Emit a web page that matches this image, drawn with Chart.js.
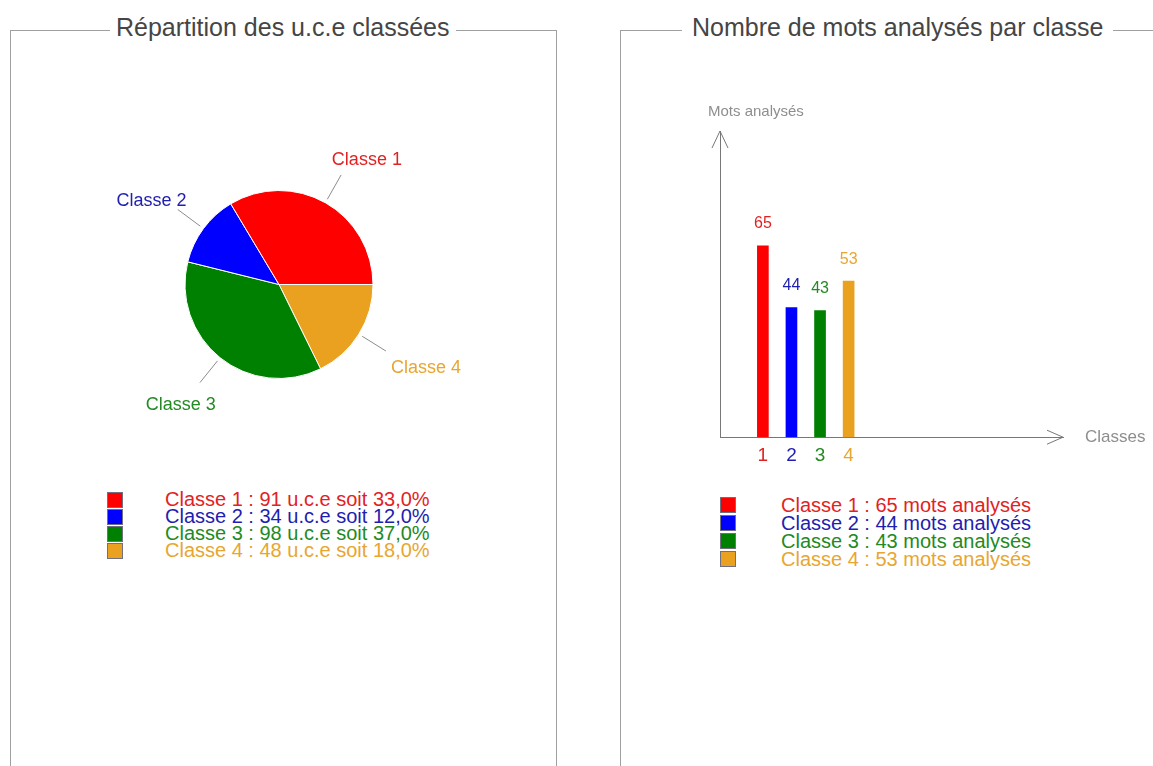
<!DOCTYPE html>
<html>
<head>
<meta charset="utf-8">
<script src="https://cdn.jsdelivr.net/npm/chart.js@4.4.0/dist/chart.umd.min.js"></script>
<style>
  body { margin:0; background:#fff; font-family:"Liberation Sans", Arial, sans-serif; overflow:hidden; }
  .box { position:absolute; top:30px; height:800px; border:1px solid #a0a0a0; }
  .box .title { position:absolute; top:-16px; background:#fff; font-size:25px; line-height:25px; color:#454545; white-space:nowrap; }
  canvas { position:absolute; }
  .legend { position:absolute; font-size:20px; white-space:nowrap; }
  .legend .row { position:relative; height:17px; line-height:17px; }
  .legend .sq { position:absolute; top:1px; width:14px; height:14px; border:1px solid #707080; }
  .legend .txt { position:absolute; }
</style>
</head>
<body>
<div class="box" style="left:10px; width:545px;"><span class="title" style="left:99px; padding:0 6px;">Répartition des u.c.e classées</span></div>
<div class="box" style="left:620px; width:600px;"><span class="title" style="left:61px; padding:0 10px;">Nombre de mots analysés par classe</span></div>

<canvas id="pieCanvas" width="546" height="440" style="left:10px; top:30px;"></canvas>
<canvas id="barCanvas" width="528" height="454" style="left:625px; top:30px;"></canvas>

<div id="pieLegend" class="legend" style="left:107px; top:491px;"></div>
<div id="barLegend" class="legend" style="left:720px; top:496px;"></div>

<script>
// data
var classes = ['Classe 1', 'Classe 2', 'Classe 3', 'Classe 4'];
var classNums = [1, 2, 3, 4];
var uceCounts = [91, 34, 98, 48];
var uceShares = ['33,0', '12,0', '37,0', '18,0'];
var motsCounts = [65, 44, 43, 53];

var markColors = ['#ff0000', '#0000ff', '#008000', '#e9a11f'];
var textColors = ['#e22222', '#1e1eb0', '#238a23', '#e8a630'];

Chart.defaults.font.family = '"Liberation Sans", Arial, sans-serif';

// pie is drawn counter clockwise from 3 o'clock, so feed it reversed
var order = [3, 2, 1, 0];

var pieLabels = {
  id: 'pieLabels',
  afterDatasetsDraw: function(chart) {
    var ctx = chart.ctx;
    var arcs = chart.getDatasetMeta(0).data;
    ctx.save();
    ctx.font = '18px "Liberation Sans", Arial, sans-serif';
    ctx.textAlign = 'center';
    ctx.textBaseline = 'middle';
    arcs.forEach(function(arc, j) {
      var i = order[j];
      var mid = (arc.startAngle + arc.endAngle) / 2;
      var c = Math.cos(mid), s = Math.sin(mid);
      var r = arc.outerRadius;
      ctx.strokeStyle = '#8c8c8c';
      ctx.lineWidth = 1;
      ctx.beginPath();
      ctx.moveTo(arc.x + (r + 4) * c, arc.y + (r + 4) * s);
      ctx.lineTo(arc.x + (r + 32) * c, arc.y + (r + 32) * s);
      ctx.stroke();
      ctx.fillStyle = textColors[i];
      ctx.fillText(classes[i], arc.x + (r + 72) * c + 6, arc.y + (r + 55) * s + 5);
    });
    ctx.restore();
  }
};

new Chart(document.getElementById('pieCanvas'), {
  type: 'pie',
  data: {
    labels: order.map(function(i) { return classes[i]; }),
    datasets: [{
      data: order.map(function(i) { return uceCounts[i]; }),
      backgroundColor: order.map(function(i) { return markColors[i]; }),
      borderColor: '#ffffff',
      borderWidth: 1
    }]
  },
  options: {
    responsive: false,
    animation: false,
    rotation: 90,
    layout: { padding: { top: 160, bottom: 91, left: 0, right: 8 } },
    plugins: { legend: { display: false }, tooltip: { enabled: false } }
  },
  plugins: [pieLabels]
});

// value labels, arrows and axis names for the bar chart
var barExtras = {
  id: 'barExtras',
  afterDatasetsDraw: function(chart) {
    var ctx = chart.ctx;
    var area = chart.chartArea;
    ctx.save();
    ctx.font = '16px "Liberation Sans", Arial, sans-serif';
    ctx.textAlign = 'center';
    ctx.textBaseline = 'middle';
    chart.getDatasetMeta(0).data.forEach(function(bar, i) {
      ctx.fillStyle = textColors[i];
      ctx.fillText(String(motsCounts[i]), bar.x, bar.y - 22);
    });

    ctx.strokeStyle = '#777';
    ctx.lineWidth = 1;
    ctx.beginPath();
    ctx.moveTo(area.left - 8, area.top + 17);
    ctx.lineTo(area.left, area.top);
    ctx.lineTo(area.left + 8, area.top + 17);
    ctx.moveTo(area.right - 16, area.bottom - 7);
    ctx.lineTo(area.right, area.bottom);
    ctx.lineTo(area.right - 16, area.bottom + 7);
    ctx.stroke();

    ctx.fillStyle = '#8e8e8e';
    ctx.textAlign = 'left';
    ctx.font = '15px "Liberation Sans", Arial, sans-serif';
    ctx.fillText('Mots analysés', area.left - 12, area.top - 19);
    ctx.font = '17px "Liberation Sans", Arial, sans-serif';
    ctx.fillText('Classes', area.right + 22, area.bottom);
    ctx.restore();
  }
};

new Chart(document.getElementById('barCanvas'), {
  type: 'bar',
  data: {
    datasets: [{
      data: classNums.map(function(n, i) { return { x: n, y: motsCounts[i] }; }),
      backgroundColor: markColors,
      barThickness: 11
    }]
  },
  options: {
    responsive: false,
    animation: false,
    layout: { padding: { left: 95, right: 90, top: 101, bottom: 10 } },
    scales: {
      x: {
        type: 'linear',
        offset: false,
        min: -0.5,
        max: 11.5,
        afterBuildTicks: function(scale) {
          scale.ticks = classNums.map(function(v) { return { value: v }; });
        },
        grid: { display: false, drawTicks: false, offset: false },
        border: { display: true, color: '#777' },
        ticks: {
          color: function(c) { return textColors[c.index]; },
          font: { size: 19 },
          padding: 7,
          callback: function(v) { return String(v); }
        }
      },
      y: {
        min: 0,
        max: 104,
        grid: { display: false, drawTicks: false },
        border: { display: true, color: '#777' },
        ticks: { display: false }
      }
    },
    plugins: { legend: { display: false }, tooltip: { enabled: false } }
  },
  plugins: [barExtras]
});

// legends under each chart
function buildLegend(id, texts, rowHeight, textLeft) {
  var box = document.getElementById(id);
  texts.forEach(function(t, i) {
    var row = document.createElement('div');
    row.className = 'row';
    row.style.height = rowHeight + 'px';
    row.style.lineHeight = rowHeight + 'px';
    var sq = document.createElement('span');
    sq.className = 'sq';
    sq.style.background = markColors[i];
    var txt = document.createElement('span');
    txt.className = 'txt';
    txt.style.left = textLeft + 'px';
    txt.style.color = textColors[i];
    txt.textContent = t;
    row.appendChild(sq);
    row.appendChild(txt);
    box.appendChild(row);
  });
}

buildLegend('pieLegend', classes.map(function(c, i) {
  return c + ' : ' + uceCounts[i] + ' u.c.e soit ' + uceShares[i] + '%';
}), 17, 58);

buildLegend('barLegend', classes.map(function(c, i) {
  return c + ' : ' + motsCounts[i] + ' mots analysés';
}), 18, 61);
</script>
</body>
</html>
